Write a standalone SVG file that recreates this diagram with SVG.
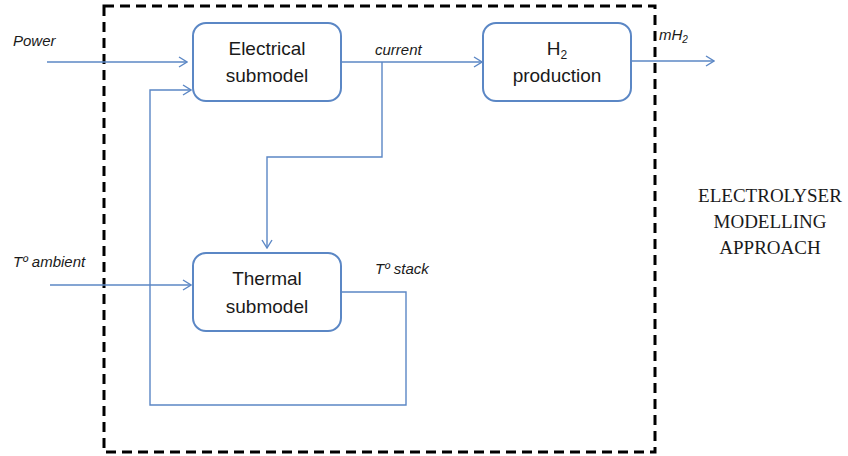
<svg xmlns="http://www.w3.org/2000/svg" width="848" height="456" viewBox="0 0 848 456">
<defs>
<marker id="arr" viewBox="0 0 10 12" refX="9" refY="6" markerWidth="10" markerHeight="12" markerUnits="userSpaceOnUse" orient="auto">
<path d="M1,1 L9,6 L1,11" fill="none" stroke="#5B87C5" stroke-width="1.4"/>
</marker>
<style>
.box{fill:#fff;stroke:#5B87C5;stroke-width:2}
.lbl{font-family:"Liberation Sans",Arial,sans-serif;font-size:19px;fill:#1a1a1a;text-anchor:middle}
.it{font-family:"Liberation Sans",Arial,sans-serif;font-size:15px;font-style:italic;fill:#1a1a1a}
.cn{fill:none;stroke:#5B87C5;stroke-width:1.4}
.ttl{font-family:"Liberation Serif","Times New Roman",serif;font-size:19px;fill:#1a1a1a;text-anchor:middle}
</style>
</defs>
<rect width="848" height="456" fill="#fff"/>
<rect id="boundary" x="104" y="6" width="551" height="446" fill="none" stroke="#000" stroke-width="3" stroke-dasharray="10 6"/>
<g id="connectors">
<path class="cn" d="M47,62 H187" marker-end="url(#arr)"/>
<path class="cn" d="M341,62 H482" marker-end="url(#arr)"/>
<path class="cn" d="M382,62 V157 H267 V248" marker-end="url(#arr)"/>
<path class="cn" d="M631,61 H714" marker-end="url(#arr)"/>
<path class="cn" d="M50,285 H191" marker-end="url(#arr)"/>
<path class="cn" d="M341,292 H406 V405 H150 V90 H191" marker-end="url(#arr)"/>
</g>
<g id="electrical">
<rect class="box" x="193" y="23" width="148" height="78" rx="13"/>
<text class="lbl" x="267" y="55">Electrical</text>
<text class="lbl" x="267" y="82">submodel</text>
</g>
<g id="h2production">
<rect class="box" x="483" y="23" width="148" height="78" rx="13"/>
<text class="lbl" x="557" y="55">H<tspan font-size="12" dy="4">2</tspan></text>
<text class="lbl" x="557" y="82">production</text>
</g>
<g id="thermal">
<rect class="box" x="193" y="253" width="148" height="78" rx="13"/>
<text class="lbl" x="267" y="285">Thermal</text>
<text class="lbl" x="267" y="313">submodel</text>
</g>
<g id="labels">
<text class="it" x="13" y="46">Power</text>
<text class="it" x="375" y="55">current</text>
<text class="it" x="659" y="40">mH<tspan font-size="10" dy="3">2</tspan></text>
<text class="it" x="13" y="267">Tº ambient</text>
<text class="it" x="375" y="274">Tº stack</text>
<text class="ttl" x="770" y="202">ELECTROLYSER</text>
<text class="ttl" x="770" y="228">MODELLING</text>
<text class="ttl" x="770" y="254">APPROACH</text>
</g>
</svg>
